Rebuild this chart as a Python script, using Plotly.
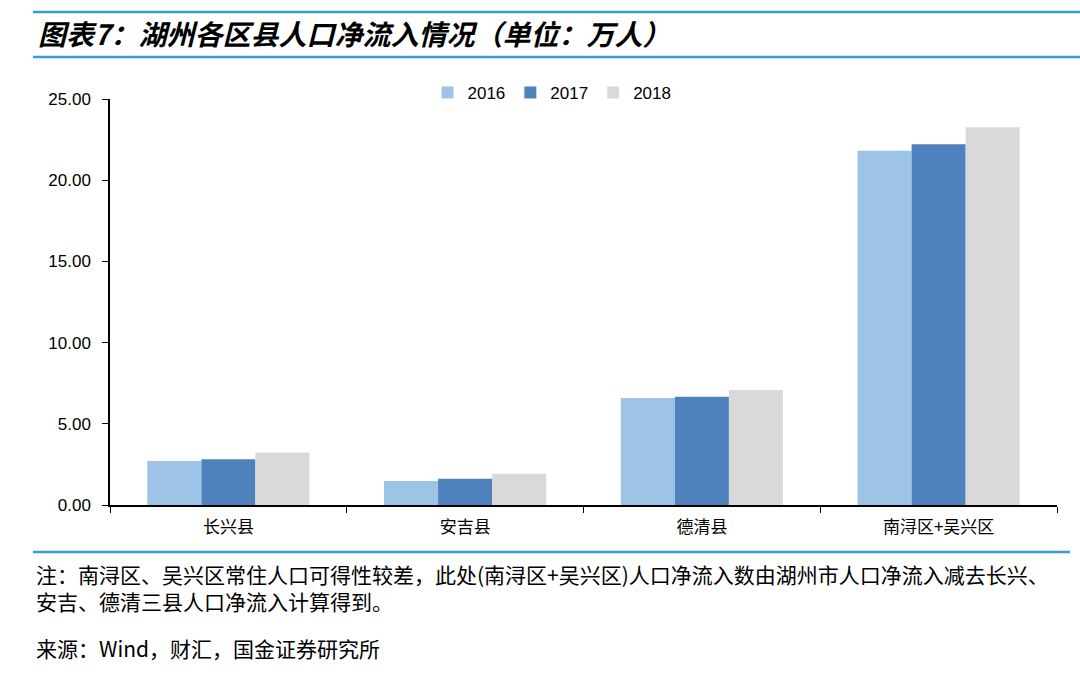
import plotly.graph_objects as go

categories = ["长兴县", "安吉县", "德清县", "南浔区+吴兴区"]
years = ["2016", "2017", "2018"]
v2016 = [2.71, 1.48, 6.59, 21.82]
v2017 = [2.81, 1.62, 6.67, 22.21]
v2018 = [3.24, 1.93, 7.08, 23.26]
series = [v2016, v2017, v2018]
colors = ["#9DC3E6", "#4F81BD", "#D9D9D9"]

title_text = "图表7：湖州各区县人口净流入情况（单位：万人）"
note_line1 = "注：南浔区、吴兴区常住人口可得性较差，此处(南浔区+吴兴区)人口净流入数由湖州市人口净流入减去长兴、"
note_line2 = "安吉、德清三县人口净流入计算得到。"
source_text = "来源：Wind，财汇，国金证券研究所"

W, H = 1080, 677
L, R, T, B = 110, 1057, 99, 505

def px(x):
    return (x - L) / (R - L)

def py(y):
    return (B - y) / (B - T)

fig = go.Figure()
for name, vals, c in zip(years, series, colors):
    fig.add_trace(go.Bar(x=categories, y=vals, name=name, marker=dict(color=c, line=dict(width=0))))

cjk = "Noto Sans CJK SC"
fig.update_layout(
    width=W, height=H,
    margin=dict(l=L, r=W - R, t=T, b=H - B),
    paper_bgcolor="white", plot_bgcolor="white",
    barmode="group", bargap=0.315, bargroupgap=0,
    font=dict(family="Liberation Sans, Arial", size=17, color="#000"),
    showlegend=True,
    legend=dict(orientation="h", x=px(552), y=py(93), xanchor="center", yanchor="middle",
                font=dict(family="Liberation Sans, Arial", size=17), itemwidth=30,
                traceorder="normal", bgcolor="rgba(0,0,0,0)"),
    xaxis=dict(showline=True, linecolor="#000", linewidth=1.5, ticks="outside", tickson="boundaries",
               ticklen=6, tickcolor="#000", tickfont=dict(family=cjk, size=17), showgrid=False,
               zeroline=False, ticklabelstandoff=6),
    yaxis=dict(range=[0, 25], dtick=5, tickformat=".2f", showline=True, linecolor="#000", linewidth=1.5,
               ticks="outside", ticklen=6, tickcolor="#000", showgrid=False, zeroline=False,
               tickfont=dict(family="Liberation Sans, Arial", size=17), ticklabelstandoff=8),
)

line_color = "#3A9AD5"
fig.add_shape(type="line", xref="paper", yref="paper", x0=px(33), x1=px(1080), y0=py(12), y1=py(12),
              line=dict(color=line_color, width=2.5))
fig.add_shape(type="line", xref="paper", yref="paper", x0=px(33), x1=px(1080), y0=py(57), y1=py(57),
              line=dict(color=line_color, width=2.5))
fig.add_shape(type="line", xref="paper", yref="paper", x0=px(33), x1=px(1070), y0=py(552), y1=py(552),
              line=dict(color=line_color, width=2.5))

fig.add_annotation(text="<b><i>" + title_text + "</i></b>", xref="paper", yref="paper", x=px(36), y=py(33),
                   xanchor="left", yanchor="middle", showarrow=False, font=dict(family=cjk, size=28, color="#000"))
fig.add_annotation(text=note_line1 + "<br>" + note_line2, xref="paper", yref="paper", x=px(34), y=py(587),
                   xanchor="left", yanchor="middle", align="left", showarrow=False,
                   font=dict(family=cjk, size=21, color="#000"))
fig.add_annotation(text=source_text, xref="paper", yref="paper", x=px(34), y=py(648), xanchor="left",
                   yanchor="middle", showarrow=False, font=dict(family=cjk, size=21, color="#000"))

fig.write_html("out.html")
